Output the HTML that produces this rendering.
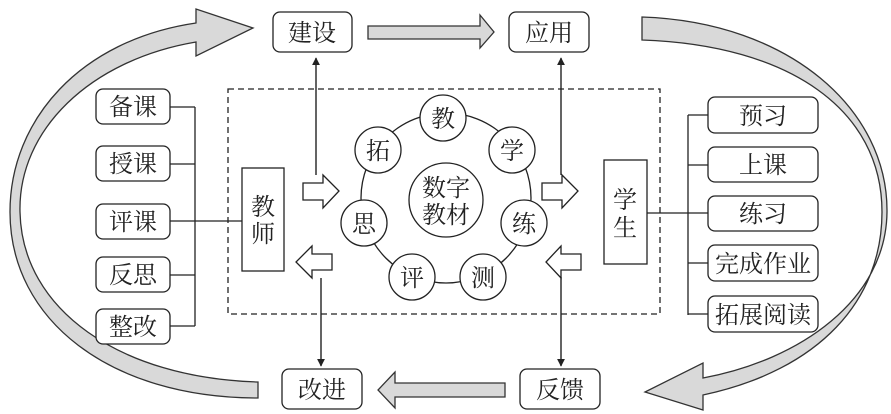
<!DOCTYPE html>
<html><head><meta charset="utf-8"><style>
html,body{margin:0;padding:0;background:#fff;}
svg{display:block;}
text{font-family:"Liberation Serif","Noto Serif CJK SC","Noto Sans CJK SC",serif;fill:#222;}
</style></head><body>
<svg width="891" height="414" viewBox="0 0 891 414" xmlns="http://www.w3.org/2000/svg">
<defs>
<marker id="ah" viewBox="0 0 10 10" refX="9" refY="5" markerWidth="8" markerHeight="10" markerUnits="userSpaceOnUse" orient="auto"><path d="M0,0 L10,5 L0,10 Z" fill="#222"/></marker>
</defs>
<g stroke="#333" stroke-width="1.3" fill="#d9d9d9">
<path d="M258 382 C120 378 22 310 20 212 C18 130 90 60 196 42 L196 56 L253 28 L196 9 L196 23 C80 40 10 120 10 212 C10 320 110 398 258 398 Z"/>
<path d="M642 17 C790 22 888 110 887 212 C886 300 800 360 703 378 L703 363 L645 392 L703 410 L703 395 C820 370 882 300 882 212 C882 110 790 45 642 40 Z"/>
<path d="M368 26 L480 26 L480 15 L494 32 L480 48 L480 39 L368 39 Z"/>
<path d="M505 383 L395 383 L395 372 L378 390 L395 408 L395 397 L505 397 Z"/>
</g>
<rect x="228" y="89" width="432" height="225" fill="none" stroke="#222" stroke-width="1.3" stroke-dasharray="6,4"/>
<g fill="#fff" stroke="#222" stroke-width="1.3">
<rect x="273" y="12" width="79" height="40" rx="7"/>
<rect x="509" y="12" width="80" height="40" rx="7"/>
<rect x="282" y="369" width="80" height="40" rx="7"/>
<rect x="520" y="369" width="80" height="40" rx="7"/>
<rect x="96" y="89" width="74" height="35" rx="7"/>
<rect x="96" y="146" width="74" height="35" rx="7"/>
<rect x="96" y="204" width="74" height="35" rx="7"/>
<rect x="96" y="257" width="74" height="35" rx="7"/>
<rect x="96" y="309" width="74" height="35" rx="7"/>
<rect x="708" y="97" width="110" height="36" rx="7"/>
<rect x="708" y="147" width="110" height="35" rx="7"/>
<rect x="708" y="196" width="110" height="35" rx="7"/>
<rect x="708" y="245" width="110" height="36" rx="7"/>
<rect x="708" y="296" width="110" height="36" rx="7"/>
<rect x="242" y="168" width="42" height="103"/>
<rect x="604" y="160" width="43" height="104"/>
</g>
<g stroke="#222" stroke-width="1.3" fill="none">
<path d="M170 107 H195 M170 164 H195 M170 221 H242 M170 275 H195 M170 326 H195 M195 107 V326"/>
<path d="M647 213 H688 M688 115 V315 M688 115 H708 M688 165 H708 M688 213 H708 M688 263 H708 M688 314 H708"/>
<circle cx="446" cy="198" r="85"/>
</g>
<g stroke="#222" stroke-width="1.4">
<line x1="316" y1="175" x2="316" y2="58" marker-end="url(#ah)"/>
<line x1="321" y1="278" x2="321" y2="366" marker-end="url(#ah)"/>
<line x1="561" y1="175" x2="561" y2="58" marker-end="url(#ah)"/>
<line x1="561" y1="277" x2="561" y2="366" marker-end="url(#ah)"/>
</g>
<g fill="#fff" stroke="#222" stroke-width="1.3">
<path d="M303 183 H323 V175 L339 191 L323 208 V200 H303 Z"/>
<path d="M542 183 H562 V175 L578 191 L562 208 V200 H542 Z"/>
<path d="M332 254 H312 V246 L296 262 L312 278 V270 H332 Z"/>
<path d="M581 254 H561 V246 L546 262 L561 278 V270 H581 Z"/>
<circle cx="443" cy="118" r="23"/>
<circle cx="512" cy="150" r="23"/>
<circle cx="524" cy="223" r="23"/>
<circle cx="483" cy="277" r="23"/>
<circle cx="412" cy="277" r="23"/>
<circle cx="364" cy="223" r="23"/>
<circle cx="378" cy="150" r="23"/>
<circle cx="446" cy="200" r="37"/>
</g>
<g font-size="24" text-anchor="middle">
<text x="312" y="41">建设</text>
<text x="549" y="41">应用</text>
<text x="322" y="398">改进</text>
<text x="560" y="398">反馈</text>
<text x="133" y="115">备课</text>
<text x="133" y="172">授课</text>
<text x="133" y="230">评课</text>
<text x="133" y="283">反思</text>
<text x="133" y="335">整改</text>
<text x="763" y="124">预习</text>
<text x="763" y="173">上课</text>
<text x="763" y="222">练习</text>
<text x="763" y="272">完成作业</text>
<text x="763" y="323">拓展阅读</text>
<text x="263" y="215">教</text>
<text x="263" y="242">师</text>
<text x="625" y="208">学</text>
<text x="625" y="236">生</text>
<text x="443" y="127">教</text>
<text x="512" y="159">学</text>
<text x="524" y="232">练</text>
<text x="483" y="286">测</text>
<text x="412" y="286">评</text>
<text x="364" y="232">思</text>
<text x="378" y="159">拓</text>
<text x="446" y="196">数字</text>
<text x="446" y="223">教材</text>
</g>
</svg>
</body></html>
